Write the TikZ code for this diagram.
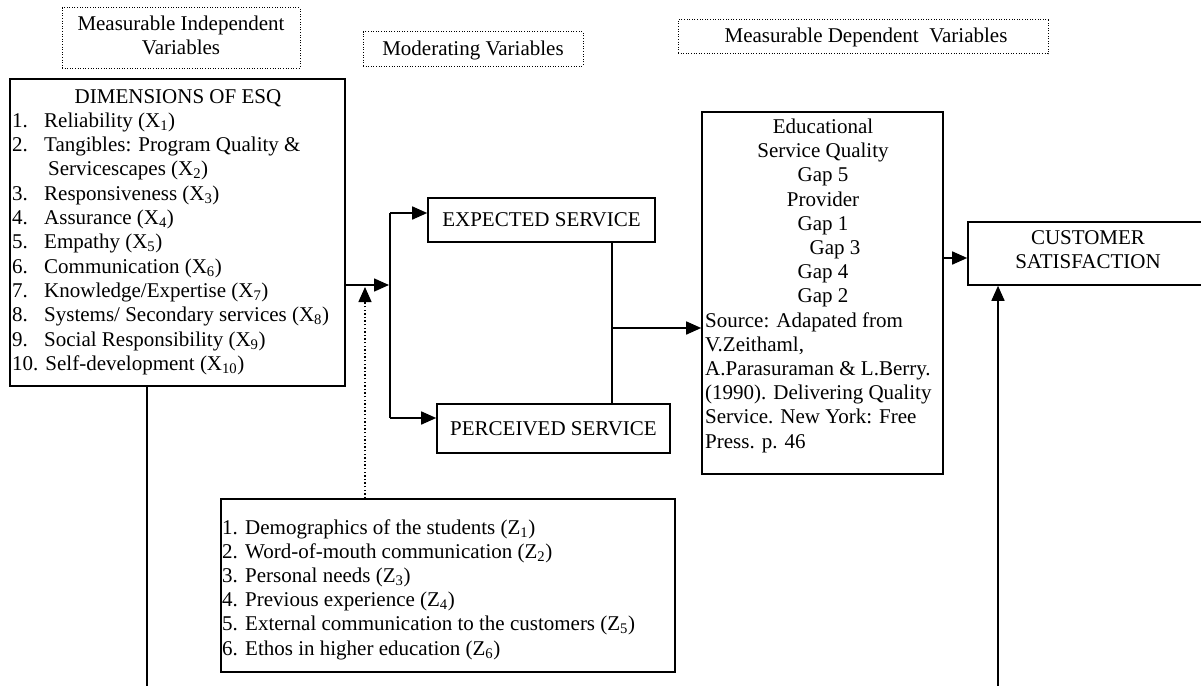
\documentclass[tikz,border=0pt]{standalone}
\usepackage{fontspec}
\setmainfont{Liberation Serif}
\usetikzlibrary{arrows.meta}
\newcommand{\sub}[1]{\textsubscript{#1}}
\newcommand{\numb}[2]{\makebox[#1][l]{#2}}
\begin{document}
\begin{tikzpicture}[x=1pt,y=-1pt,
  box/.style={draw, line width=1.6pt, inner sep=0pt},
  lblbox/.style={draw, line width=1pt, dash pattern=on 1pt off 1.6pt, inner sep=0pt},
  txt/.style={inner sep=0pt, font=\fontsize{21}{24}\selectfont},
  conn/.style={line width=1.6pt},
  arr/.style={conn, -{Triangle[length=15pt,width=13pt]}},
  dotarr/.style={line width=1.4pt, dash pattern=on 1.4pt off 2.2pt, -{Triangle[length=15pt,width=13pt]}},
]
\clip (0,0) rectangle (1201,685);
\fill[white] (0,0) rectangle (1201,685);

% label boxes
\node[lblbox, minimum width=238pt, minimum height=60pt] (lab1) at (181,38) {};
\node[txt, anchor=base] (lab1a) at (181,31) {Measurable Independent};
\node[txt, anchor=base] (lab1b) at (181,55) {Variables};
\node[lblbox, minimum width=220pt, minimum height=34pt] (lab2) at (473,49) {};
\node[txt, anchor=base] (lab2a) at (473,56) {Moderating Variables};
\node[lblbox, minimum width=370pt, minimum height=34pt] (lab3) at (863,37) {};
\node[txt, anchor=base] (lab3a) at (866,43) {Measurable Dependent\ \ Variables};

% ESQ box
\node[box, minimum width=335pt, minimum height=307pt] (esq) at (177.5,232.5) {};
\node[txt, anchor=base] (esq0) at (178,103) {DIMENSIONS OF ESQ};
\node[txt, anchor=base west] (esq1) at (12,127) {\numb{32pt}{1.}Reliability (X\sub{1})};
\node[txt, anchor=base west] (esq2) at (12,151) {\numb{32pt}{2.}Tangibles: Program Quality \&};
\node[txt, anchor=base west] (esq2b) at (48,175) {Servicescapes (X\sub{2})};
\node[txt, anchor=base west] (esq3) at (12,200) {\numb{32pt}{3.}Responsiveness (X\sub{3})};
\node[txt, anchor=base west] (esq4) at (12,224) {\numb{32pt}{4.}Assurance (X\sub{4})};
\node[txt, anchor=base west] (esq5) at (12,248) {\numb{32pt}{5.}Empathy (X\sub{5})};
\node[txt, anchor=base west] (esq6) at (12,273) {\numb{32pt}{6.}Communication (X\sub{6})};
\node[txt, anchor=base west] (esq7) at (12,297) {\numb{32pt}{7.}Knowledge/Expertise (X\sub{7})};
\node[txt, anchor=base west] (esq8) at (12,321) {\numb{32pt}{8.}Systems/ Secondary services (X\sub{8})};
\node[txt, anchor=base west] (esq9) at (12,346) {\numb{32pt}{9.}Social Responsibility (X\sub{9})};
\node[txt, anchor=base west] (esq10) at (12,370) {10. Self-development (X\sub{10})};

% service boxes
\node[box, minimum width=227pt, minimum height=44pt] (exp) at (541.5,220) {};
\node[txt] (expt) at (exp.center) {EXPECTED SERVICE};
\node[box, minimum width=233pt, minimum height=49pt] (per) at (553.5,428.5) {};
\node[txt] (pert) at (per.center) {PERCEIVED SERVICE};

% educational box
\node[box, minimum width=241pt, minimum height=362pt] (edu) at (822.5,293) {};
\node[txt, anchor=base] (edu1) at (823,133) {Educational};
\node[txt, anchor=base] (edu2) at (823,157) {Service Quality};
\node[txt, anchor=base] (edu3) at (823,181) {Gap 5};
\node[txt, anchor=base] (edu4) at (823,206) {Provider};
\node[txt, anchor=base] (edu5) at (823,230) {Gap 1};
\node[txt, anchor=base] (edu6) at (835,254) {Gap 3};
\node[txt, anchor=base] (edu7) at (823,278) {Gap 4};
\node[txt, anchor=base] (edu8) at (823,302) {Gap 2};
\node[txt, anchor=base west] (edu9) at (705,327) {Source: Adapated from};
\node[txt, anchor=base west] (edu10) at (705,351) {V.Zeithaml,};
\node[txt, anchor=base west] (edu11) at (705,375) {A.Parasuraman \& L.Berry.};
\node[txt, anchor=base west] (edu12) at (705,399) {(1990). Delivering Quality};
\node[txt, anchor=base west] (edu13) at (705,423) {Service. New York: Free};
\node[txt, anchor=base west] (edu14) at (705,448) {Press. p. 46};

% customer satisfaction
\node[box, minimum width=240pt, minimum height=63pt] (cs) at (1088,253.5) {};
\node[txt, anchor=base] (cs1) at (1088,244) {CUSTOMER};
\node[txt, anchor=base] (cs2) at (1088,268) {SATISFACTION};

% moderating list
\node[box, minimum width=454pt, minimum height=173pt] (mod) at (448,585.5) {};
\node[txt, anchor=base west] (mod1) at (222,534) {\numb{23pt}{1.}Demographics of the students (Z\sub{1})};
\node[txt, anchor=base west] (mod2) at (222,558) {\numb{23pt}{2.}Word-of-mouth communication (Z\sub{2})};
\node[txt, anchor=base west] (mod3) at (222,582) {\numb{23pt}{3.}Personal needs (Z\sub{3})};
\node[txt, anchor=base west] (mod4) at (222,606) {\numb{23pt}{4.}Previous experience (Z\sub{4})};
\node[txt, anchor=base west] (mod5) at (222,630) {\numb{23pt}{5.}External communication to the customers (Z\sub{5})};
\node[txt, anchor=base west] (mod6) at (222,655) {\numb{23pt}{6.}Ethos in higher education (Z\sub{6})};

% connector coordinates
\coordinate (split) at (390,285);
\coordinate (splitT) at (390,213);
\coordinate (splitB) at (390,418);
\coordinate (mid) at (612,328);
\coordinate (toCS) at (950,258);
\coordinate (dotx) at (365,287);
\coordinate (bl) at (147,700);
\coordinate (br) at (998,700);

% connectors
\draw[arr, shorten >=1pt] (esq.east |- split) -- (split);
\draw[conn] (splitT) -- (splitB);
\draw[arr] (splitT) -- (splitT -| exp.west);
\draw[arr] (splitB) -- (splitB -| per.west);
\draw[conn] (exp.south -| mid) -- (per.north -| mid);
\draw[arr] (mid) -- (mid -| edu.west);
\draw[arr] (toCS -| edu.east) -- (toCS -| cs.west);
\draw[conn] (esq.south -| bl) -- (bl);
\draw[arr] (br) -- (br |- cs.south);
\draw[dotarr] (mod.north -| dotx) -- (dotx);
\end{tikzpicture}
\end{document}
